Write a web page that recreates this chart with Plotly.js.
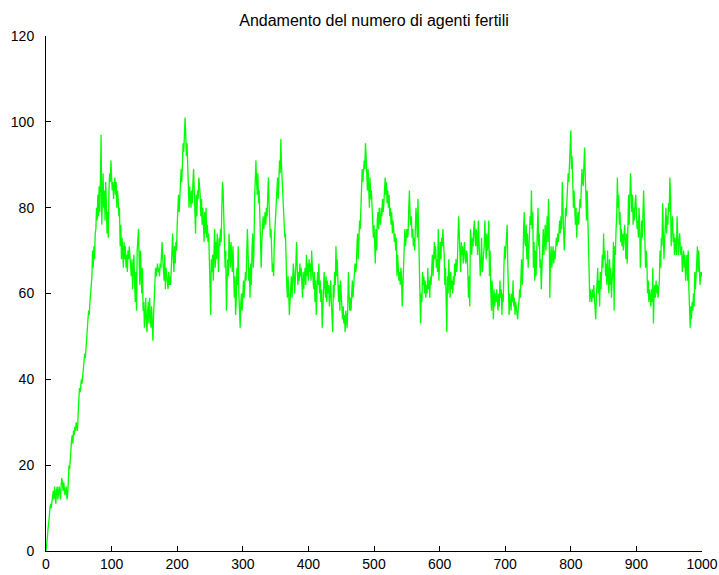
<!DOCTYPE html>
<html>
<head>
<meta charset="utf-8">
<script src="https://cdn.plot.ly/plotly-3.0.1.min.js"></script>
<style>
  html, body { margin: 0; padding: 0; background: #ffffff; }
  #chart { width: 719px; height: 575px; }
</style>
</head>
<body>
<div id="chart"></div>
<script>
// Number of fertile agents at each simulation step (step 0 .. 1000)
const fertiliAgents = [
  0, 1, 3, 5, 6, 8, 10, 11, 10, 12,
  13, 14, 12, 15, 13, 11, 14, 15, 12, 13,
  15, 14, 12, 15, 17, 16, 14, 16, 15, 13,
  14, 15, 12, 13, 16, 20, 19, 22, 24, 26,
  27, 25, 28, 27, 29, 28, 30, 29, 28, 32,
  36, 38, 37, 39, 40, 39, 41, 43, 45, 46,
  45, 48, 50, 53, 54, 56, 55, 58, 60, 62,
  64, 70, 66, 71, 68, 74, 75, 80, 77, 83,
  78, 85, 79, 87, 97, 76, 82, 88, 80, 84,
  77, 86, 81, 74, 79, 73, 84, 88, 86, 91,
  87, 84, 86, 82, 85, 87, 83, 86, 80, 84,
  82, 78, 80, 71, 76, 68, 73, 70, 66, 72,
  68, 71, 66, 69, 65, 70, 68, 71, 69, 66,
  64, 68, 61, 66, 69, 63, 58, 65, 56, 70,
  73, 75, 68, 62, 70, 64, 60, 66, 56, 58,
  52, 55, 59, 54, 51, 56, 58, 53, 59, 55,
  52, 57, 54, 49, 55, 58, 62, 66, 64, 66,
  67, 65, 66, 64, 67, 66, 70, 72, 68, 66,
  63, 69, 61, 66, 64, 63, 61, 65, 62, 64,
  62, 66, 70, 74, 68, 65, 71, 67, 72, 70,
  76, 80, 83, 79, 83, 85, 89, 86, 92, 95,
  93, 96, 101, 97, 92, 95, 88, 83, 80, 85,
  82, 80, 84, 81, 86, 89, 84, 80, 74, 83,
  78, 84, 82, 87, 85, 83, 78, 82, 76, 80,
  76, 72, 79, 74, 80, 73, 76, 72, 74, 70,
  62, 55, 68, 65, 69, 63, 71, 75, 66, 72,
  68, 74, 70, 65, 73, 71, 75, 72, 80, 86,
  84, 79, 74, 66, 70, 56, 62, 68, 64, 74,
  70, 66, 72, 68, 65, 71, 62, 59, 64, 55,
  58, 66, 62, 71, 60, 57, 52, 58, 60, 56,
  61, 63, 59, 62, 65, 63, 68, 75, 70, 63,
  66, 59, 67, 62, 70, 74, 66, 70, 82, 88,
  91, 86, 83, 88, 81, 84, 75, 70, 66, 72,
  74, 78, 75, 77, 79, 76, 80, 78, 84, 87,
  81, 76, 73, 75, 68, 65, 67, 64, 72, 75,
  78, 81, 84, 87, 82, 86, 91, 88, 96, 90,
  87, 83, 82, 76, 73, 74, 65, 62, 59, 64,
  60, 55, 58, 60, 64, 59, 62, 67, 65, 60,
  63, 68, 72, 66, 62, 65, 63, 67, 64, 66,
  63, 59, 65, 61, 64, 66, 62, 69, 64, 67,
  63, 68, 65, 67, 63, 70, 66, 64, 61, 65,
  58, 63, 55, 60, 65, 62, 67, 60, 63, 58,
  61, 52, 57, 60, 65, 62, 59, 64, 58, 63,
  60, 62, 57, 60, 63, 58, 55, 51, 62, 59,
  65, 62, 71, 64, 68, 61, 58, 62, 56, 63,
  59, 56, 54, 57, 53, 55, 51, 56, 53, 52,
  57, 65, 60, 56, 59, 56, 60, 63, 59, 62,
  64, 67, 65, 66, 71, 74, 68, 73, 77, 75,
  81, 85, 89, 86, 88, 91, 89, 95, 92, 87,
  84, 89, 86, 80, 87, 82, 84, 80, 77, 73,
  76, 72, 67, 75, 70, 77, 79, 75, 80, 77,
  76, 80, 78, 82, 79, 81, 84, 87, 83, 86,
  81, 84, 80, 83, 78, 80, 76, 79, 74, 77,
  75, 72, 74, 70, 73, 64, 69, 66, 63, 65,
  62, 66, 64, 57, 62, 66, 69, 75, 71, 73,
  75, 73, 74, 80, 84, 78, 76, 78, 73, 75,
  71, 73, 70, 75, 80, 77, 73, 82, 76, 71,
  63, 53, 60, 58, 65, 62, 64, 60, 63, 59,
  62, 60, 66, 61, 63, 59, 64, 62, 66, 69,
  64, 70, 72, 68, 71, 66, 68, 65, 75, 63,
  70, 72, 68, 73, 71, 75, 72, 69, 62, 66,
  58, 51, 64, 60, 68, 62, 59, 65, 61, 63,
  60, 64, 62, 67, 64, 68, 65, 67, 72, 78,
  74, 70, 65, 72, 69, 71, 67, 70, 72, 68,
  67, 70, 69, 65, 59, 64, 57, 75, 71, 69,
  73, 71, 75, 77, 73, 71, 75, 73, 69, 77,
  73, 70, 64, 68, 73, 65, 67, 68, 71, 77,
  72, 68, 74, 70, 72, 77, 64, 70, 61, 56,
  63, 58, 54, 61, 57, 60, 58, 61, 59, 56,
  60, 57, 63, 59, 61, 55, 60, 58, 66, 71,
  68, 70, 74, 76, 66, 61, 55, 60, 58, 56,
  60, 58, 63, 57, 59, 55, 58, 57, 55, 54,
  57, 58, 61, 59, 64, 68, 62, 66, 75, 79,
  72, 71, 76, 68, 74, 66, 70, 74, 78, 76,
  84, 75, 79, 66, 72, 63, 70, 64, 68, 73,
  80, 71, 74, 66, 68, 61, 66, 70, 75, 69,
  73, 76, 70, 74, 78, 72, 82, 76, 59, 68,
  71, 66, 69, 71, 67, 70, 68, 72, 73, 71,
  74, 72, 75, 77, 74, 78, 75, 86, 80, 76,
  70, 74, 80, 78, 82, 85, 88, 86, 90, 93,
  98, 89, 92, 86, 80, 84, 78, 76, 80, 73,
  77, 79, 76, 78, 82, 80, 84, 89, 86, 85,
  90, 94, 88, 82, 77, 84, 76, 73, 65, 58,
  61, 60, 58, 61, 59, 62, 60, 56, 54, 59,
  62, 66, 60, 63, 57, 65, 61, 64, 69, 66,
  74, 68, 70, 64, 67, 62, 70, 64, 60, 68,
  62, 66, 59, 63, 65, 72, 56, 71, 69, 75,
  78, 87, 80, 83, 76, 79, 72, 75, 71, 74,
  70, 73, 76, 72, 68, 74, 67, 75, 83, 76,
  81, 88, 84, 79, 83, 76, 80, 77, 81, 83,
  79, 75, 77, 73, 80, 76, 66, 71, 77, 73,
  79, 84, 78, 72, 66, 70, 67, 60, 63, 58,
  61, 59, 57, 61, 58, 66, 53, 60, 62, 59,
  63, 60, 62, 59, 61, 63, 70, 66, 73, 71,
  81, 74, 68, 72, 76, 80, 74, 78, 76, 81,
  79, 87, 83, 71, 76, 78, 72, 74, 69, 73,
  71, 69, 78, 73, 69, 72, 74, 70, 69, 71,
  65, 68, 70, 66, 69, 63, 67, 69, 63, 70,
  61, 55, 52, 57, 54, 58, 56, 60, 57, 65,
  61, 64, 67, 71, 65, 70, 66, 62, 65, 64,
  65
];

// Simulation steps: one per recorded value
const steps = fertiliAgents.map((_, i) => i);

const xTickValues = [0, 100, 200, 300, 400, 500, 600, 700, 800, 900, 1000];
const yTickValues = [0, 20, 40, 60, 80, 100, 120];

const tickFont = { family: 'Liberation Sans, Arial, sans-serif', size: 14, color: '#000000' };

const trace = {
  x: steps,
  y: fertiliAgents,
  type: 'scatter',
  mode: 'lines',
  line: { color: '#00ff00', width: 1.3, shape: 'linear' },
  hoverinfo: 'x+y'
};

const axisCommon = {
  showgrid: false,
  zeroline: false,
  showline: true,
  linecolor: '#000000',
  linewidth: 1,
  mirror: false,
  ticks: 'inside',
  ticklen: 5,
  tickwidth: 1,
  tickcolor: '#000000',
  tickfont: tickFont
};

const layout = {
  width: 719,
  height: 575,
  margin: { l: 46, r: 17, t: 36, b: 24, pad: 0 },
  paper_bgcolor: '#ffffff',
  plot_bgcolor: '#ffffff',
  showlegend: false,
  font: tickFont,
  title: {
    text: 'Andamento del numero di agenti fertili',
    font: { family: 'Liberation Sans, Arial, sans-serif', size: 16, color: '#000000' },
    x: 0.5,
    xref: 'paper',
    xanchor: 'center',
    y: 1 - 20 / 575,
    yref: 'container',
    yanchor: 'middle'
  },
  xaxis: Object.assign({}, axisCommon, {
    range: [0, 1000],
    tickvals: xTickValues,
    ticktext: xTickValues.map(String)
  }),
  yaxis: Object.assign({}, axisCommon, {
    range: [0, 120],
    tickvals: yTickValues,
    ticktext: yTickValues.map(String),
    ticklabelstandoff: 8
  })
};

Plotly.newPlot('chart', [trace], layout, { displayModeBar: false, staticPlot: true });
</script>
</body>
</html>
